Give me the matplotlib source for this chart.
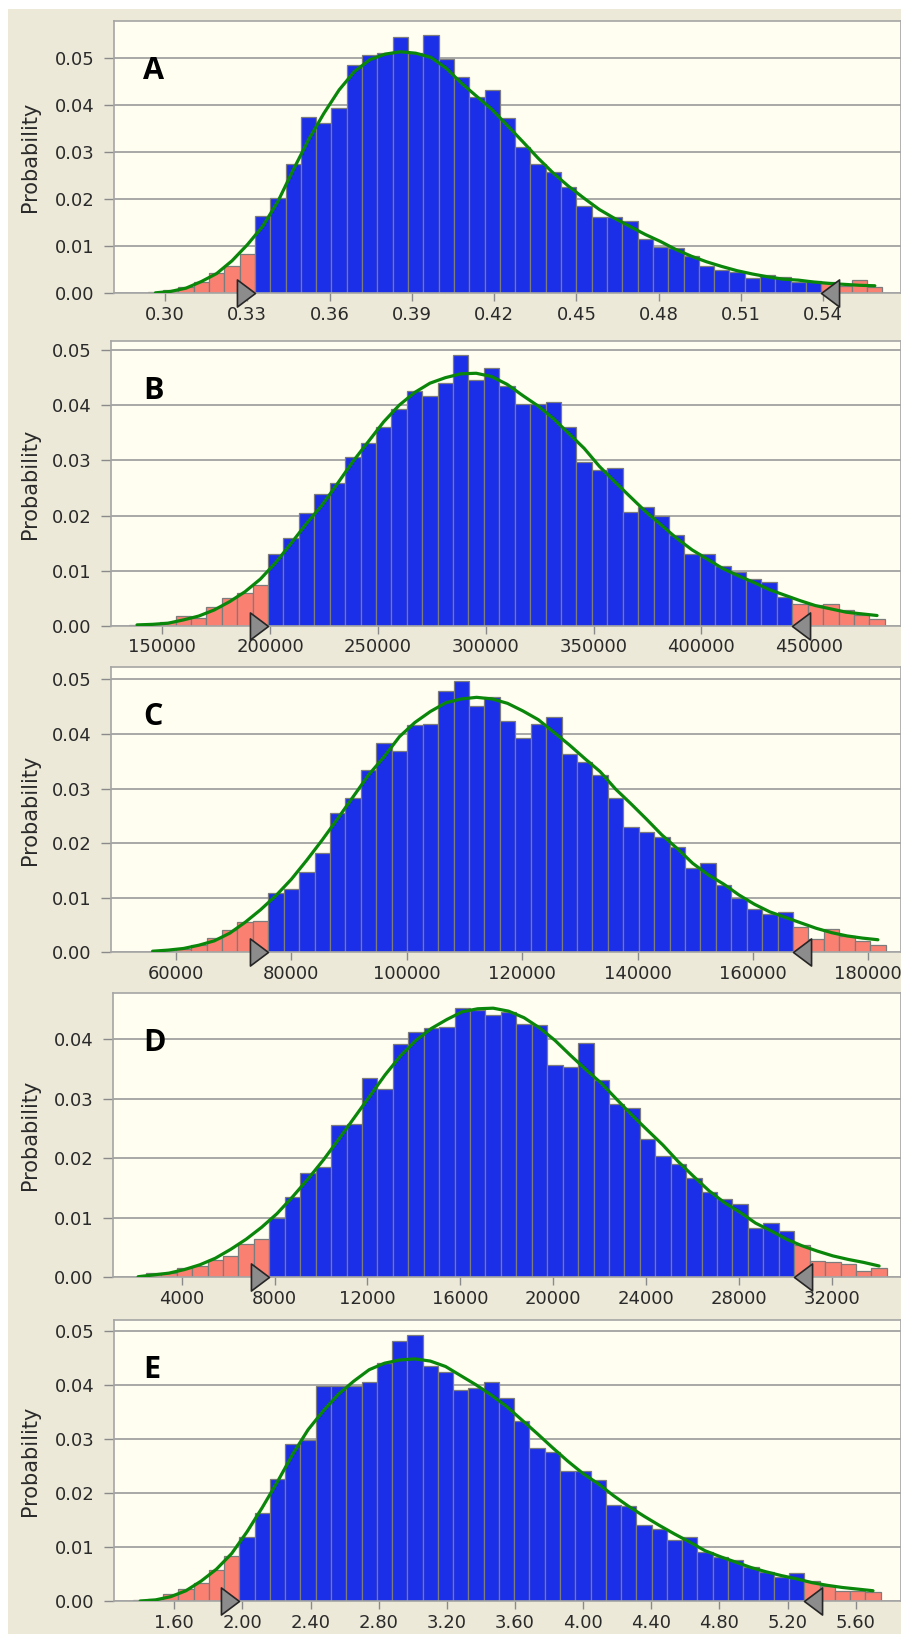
import matplotlib.pyplot as plt
import numpy as np
from matplotlib.patches import Rectangle
from matplotlib.path import Path

W, H = 901, 1634

# ── data (probabilities per bin, fitted curve at bin centres) ──
a_probs = [0.0002, 0.0006, 0.0013, 0.0025, 0.0044, 0.0058, 0.0084,
           0.0164, 0.0203, 0.0274, 0.0375, 0.0361, 0.0394, 0.0485, 0.0506, 0.0511, 0.0544,
           0.0511, 0.0549, 0.0497, 0.0459, 0.0416, 0.0431, 0.0372, 0.0310, 0.0274, 0.0258,
           0.0225, 0.0186, 0.0163, 0.0163, 0.0154, 0.0115, 0.0098, 0.0096, 0.0079, 0.0057,
           0.0050, 0.0046, 0.0032, 0.0039, 0.0035, 0.0023, 0.0026,
           0.0023, 0.0016, 0.0028, 0.0014]
a_fit = [0.0001, 0.0004, 0.0011, 0.0025, 0.0042, 0.0069, 0.0103, 0.0142, 0.0195, 0.0262,
         0.0326, 0.0382, 0.0432, 0.0471, 0.0496, 0.0508, 0.0513, 0.0510, 0.0501, 0.0478,
         0.0446, 0.0418, 0.0390, 0.0356, 0.0322, 0.0287, 0.0255, 0.0227, 0.0202, 0.0178,
         0.0159, 0.0142, 0.0125, 0.0110, 0.0093, 0.0079, 0.0067, 0.0057, 0.0048, 0.0041,
         0.0035, 0.0030, 0.0028, 0.0024, 0.0021, 0.0019, 0.0017, 0.0016]
a_bins = (0.29373, 0.00558)          # first edge, bin width
a_cuts = (0.3328, 0.5393)
a_xticks = [0.30, 0.33, 0.36, 0.39, 0.42, 0.45, 0.48, 0.51, 0.54]

b_probs = [0.0002, 0.0004, 0.0008, 0.0019, 0.0015, 0.0034, 0.0051, 0.0060, 0.0074,
           0.0130, 0.0159, 0.0204, 0.0239, 0.0260, 0.0307, 0.0332, 0.0361, 0.0394, 0.0426,
           0.0417, 0.0441, 0.0491, 0.0446, 0.0467, 0.0435, 0.0402, 0.0402, 0.0406, 0.0361,
           0.0297, 0.0283, 0.0286, 0.0206, 0.0215, 0.0200, 0.0165, 0.0130, 0.0130, 0.0109,
           0.0097, 0.0086, 0.0079, 0.0053,
           0.0040, 0.0038, 0.0039, 0.0029, 0.0020, 0.0013]
b_fit = [0.0002, 0.0003, 0.0005, 0.0011, 0.0018, 0.0029, 0.0044, 0.0062, 0.0085, 0.0115,
         0.0150, 0.0186, 0.0219, 0.0258, 0.0298, 0.0334, 0.0370, 0.0400, 0.0423, 0.0440,
         0.0450, 0.0457, 0.0458, 0.0452, 0.0438, 0.0418, 0.0399, 0.0376, 0.0349, 0.0322,
         0.0289, 0.0261, 0.0234, 0.0207, 0.0183, 0.0159, 0.0138, 0.0121, 0.0104, 0.0091,
         0.0079, 0.0066, 0.0056, 0.0046, 0.0037, 0.0031, 0.0025, 0.0022, 0.0019]
b_bins = (134700, 7150)
b_cuts = (199050, 442150)
b_xticks = [150000, 200000, 250000, 300000, 350000, 400000, 450000]

c_probs = [0.0001, 0.0002, 0.0006, 0.0013, 0.0026, 0.0041, 0.0056, 0.0058,
           0.0108, 0.0116, 0.0147, 0.0181, 0.0256, 0.0282, 0.0334, 0.0384, 0.0369, 0.0416,
           0.0419, 0.0479, 0.0496, 0.0452, 0.0467, 0.0424, 0.0392, 0.0419, 0.0431, 0.0363,
           0.0348, 0.0325, 0.0282, 0.0229, 0.0220, 0.0212, 0.0193, 0.0155, 0.0164, 0.0123,
           0.0099, 0.0079, 0.0070, 0.0073,
           0.0047, 0.0024, 0.0042, 0.0030, 0.0020, 0.0013]
c_fit = [0.0002, 0.0004, 0.0007, 0.0013, 0.0021, 0.0035, 0.0055, 0.0078, 0.0104, 0.0134,
         0.0169, 0.0206, 0.0245, 0.0285, 0.0325, 0.0358, 0.0395, 0.0421, 0.0441,
         0.0457, 0.0464, 0.0467, 0.0464, 0.0456, 0.0442, 0.0426, 0.0403, 0.0380, 0.0355,
         0.0331, 0.0299, 0.0272, 0.0244, 0.0215, 0.0190, 0.0163, 0.0142, 0.0125, 0.0105,
         0.0088, 0.0074, 0.0064, 0.0054, 0.0044, 0.0036, 0.0030, 0.0026, 0.0023]
c_bins = (54600, 2675)
c_cuts = (76000, 166950)
c_xticks = [60000, 80000, 100000, 120000, 140000, 160000, 180000]

d_probs = [0.0001, 0.0008, 0.0008, 0.0015, 0.0019, 0.0029, 0.0035, 0.0056, 0.0064,
           0.0099, 0.0135, 0.0175, 0.0186, 0.0256, 0.0258, 0.0334, 0.0316, 0.0391, 0.0412,
           0.0419, 0.0421, 0.0453, 0.0449, 0.0440, 0.0446, 0.0426, 0.0423, 0.0356, 0.0354,
           0.0394, 0.0331, 0.0291, 0.0285, 0.0232, 0.0204, 0.0190, 0.0167, 0.0143, 0.0131,
           0.0123, 0.0083, 0.0091, 0.0078,
           0.0055, 0.0028, 0.0025, 0.0022, 0.0010, 0.0015]
d_fit = [0.0001, 0.0004, 0.0007, 0.0013, 0.0021, 0.0032, 0.0047, 0.0064, 0.0084, 0.0107,
         0.0135, 0.0165, 0.0197, 0.0232, 0.0268, 0.0304, 0.0340, 0.0372, 0.0398, 0.0418,
         0.0433, 0.0446, 0.0451, 0.0452, 0.0447, 0.0436, 0.0419, 0.0398, 0.0373, 0.0349,
         0.0326, 0.0299, 0.0272, 0.0247, 0.0222, 0.0194, 0.0169, 0.0145, 0.0125, 0.0109,
         0.0091, 0.0078, 0.0064, 0.0053, 0.0044, 0.0036, 0.0030, 0.0025, 0.0019]
d_bins = (1790, 665)
d_cuts = (7775, 30385)
d_xticks = [4000, 8000, 12000, 16000, 20000, 24000, 28000, 32000]

e_probs = [0.0001, 0.0004, 0.0013, 0.0022, 0.0034, 0.0057, 0.0084,
           0.0119, 0.0162, 0.0226, 0.0290, 0.0298, 0.0397, 0.0398, 0.0397, 0.0405, 0.0441,
           0.0481, 0.0493, 0.0435, 0.0423, 0.0391, 0.0394, 0.0405, 0.0375, 0.0334, 0.0284,
           0.0275, 0.0240, 0.0240, 0.0223, 0.0178, 0.0175, 0.0140, 0.0133, 0.0113, 0.0119,
           0.0090, 0.0081, 0.0075, 0.0062, 0.0054, 0.0045, 0.0051,
           0.0037, 0.0028, 0.0019, 0.0019, 0.0016]
e_fit = [0.0000, 0.0002, 0.0008, 0.0019, 0.0037, 0.0059, 0.0088, 0.0128, 0.0173, 0.0221,
         0.0272, 0.0317, 0.0352, 0.0383, 0.0407, 0.0428, 0.0440, 0.0446, 0.0448, 0.0444,
         0.0434, 0.0417, 0.0400, 0.0381, 0.0360, 0.0335, 0.0310, 0.0284, 0.0259, 0.0236,
         0.0217, 0.0195, 0.0175, 0.0157, 0.0140, 0.0124, 0.0109, 0.0093, 0.0082, 0.0072,
         0.0062, 0.0054, 0.0047, 0.0041, 0.0034, 0.0029, 0.0025, 0.0022, 0.0019]
e_bins = (1.3546, 0.08963)
e_cuts = (1.9820, 5.2983)
e_xticks = [1.60, 2.00, 2.40, 2.80, 3.20, 3.60, 4.00, 4.40, 4.80, 5.20, 5.60]

# ── styles ──
BLUE = '#1B2EE8'
SALMON = '#FA8072'
GREEN = '#0A870A'
PLOT_BG = '#FFFEF0'
PANEL_BG = '#ECE9D8'
GRAY = '#9A9A9A'

TRI_R = Path([(-1, -0.75), (0, 0), (-1, 0.75), (-1, -0.75)],
             [Path.MOVETO, Path.LINETO, Path.LINETO, Path.CLOSEPOLY])
TRI_L = Path([(1, -0.75), (0, 0), (1, 0.75), (1, -0.75)],
             [Path.MOVETO, Path.LINETO, Path.LINETO, Path.CLOSEPOLY])

fig = plt.figure(figsize=(W / 100, H / 100), dpi=100)
fig.patch.set_facecolor('white')
fig.patches.append(Rectangle((8 / W, 0), 1, 1 - 9 / H, transform=fig.transFigure,
                             facecolor=PANEL_BG, edgecolor='none', zorder=-10))

# (letter, probs, fit, bins, cuts, xticks, fmt, left px, top px, bottom px, xlim, ytop, yticks)
panels = [
    ('A', a_probs, a_fit, a_bins, a_cuts, a_xticks, '{:.2f}', 114, 20.7, 293.3,
     (0.28141, 0.56832), 0.0579, [0, 0.01, 0.02, 0.03, 0.04, 0.05]),
    ('B', b_probs, b_fit, b_bins, b_cuts, b_xticks, '{:.0f}', 111, 340.7, 626,
     (126209, 492578), 0.0517, [0, 0.01, 0.02, 0.03, 0.04, 0.05]),
    ('C', c_probs, c_fit, c_bins, c_cuts, c_xticks, '{:.0f}', 111, 667.3, 952.3,
     (48733, 185667), 0.0522, [0, 0.01, 0.02, 0.03, 0.04, 0.05]),
    ('D', d_probs, d_fit, d_bins, d_cuts, d_xticks, '{:.0f}', 112.7, 992.7, 1277.3,
     (1028, 34986), 0.0478, [0, 0.01, 0.02, 0.03, 0.04]),
    ('E', e_probs, e_fit, e_bins, e_cuts, e_xticks, '{:.2f}', 114, 1320, 1601,
     (1.2460, 5.8659), 0.0520, [0, 0.01, 0.02, 0.03, 0.04, 0.05]),
]

for (letter, probs, fit, bins, cuts, xticks, fmt, lpx, tpx, bpx,
     xlim, ytop, yticks) in panels:
    ax = fig.add_axes([lpx / W, 1 - bpx / H, (W - lpx) / W, (bpx - tpx) / H])
    ax.set_facecolor(PLOT_BG)

    n = len(probs)
    edges = bins[0] + bins[1] * np.arange(n)
    centers = edges + bins[1] / 2
    colors = [SALMON if (c < cuts[0] or c > cuts[1]) else BLUE for c in centers]
    ax.bar(edges, probs, width=bins[1], align='edge', color=colors,
           edgecolor='#7C7C7C', linewidth=0.9, zorder=2)
    ax.plot(centers, fit, color=GREEN, lw=2.3, zorder=4, solid_capstyle='round')

    # cutoff sliders
    ax.plot([cuts[0]], [0], marker=TRI_R, ms=26, mfc='#8C8C8C', mec='#262626',
            mew=1.2, clip_on=False, zorder=6, ls='none')
    ax.plot([cuts[1]], [0], marker=TRI_L, ms=26, mfc='#8C8C8C', mec='#262626',
            mew=1.2, clip_on=False, zorder=6, ls='none')

    ax.set_xlim(*xlim)
    ax.set_ylim(0, ytop)
    ax.set_xticks(xticks)
    ax.set_xticklabels([fmt.format(t) for t in xticks])
    ax.set_yticks(yticks)
    ax.set_yticklabels(['{:.2f}'.format(t) for t in yticks])
    ax.tick_params(axis='x', direction='out', length=6, width=1, color='#8A8A8A',
                   labelsize=13, labelcolor='#2A2A2A', pad=3)
    ax.tick_params(axis='y', direction='out', length=7, width=1, color='#8A8A8A',
                   labelsize=13, labelcolor='#2A2A2A', pad=7)
    ax.grid(axis='y', color=GRAY, lw=1.2)
    ax.set_axisbelow(True)
    for sp in ax.spines.values():
        sp.set_color('#A5A5A5')
        sp.set_linewidth(1.2)

    # panel letter & y label
    fig.text(143 / W, 1 - (tpx + 58) / H, letter, fontsize=22, fontweight='bold',
             family='Open Sans', color='black', ha='left', va='baseline')
    fig.text(30 / W, 1 - (tpx + bpx) / 2 / H, 'Probability', rotation=90,
             fontsize=15, color='#2A2A2A', ha='center', va='center')

fig.savefig('out.png', dpi=100, facecolor=fig.get_facecolor())
